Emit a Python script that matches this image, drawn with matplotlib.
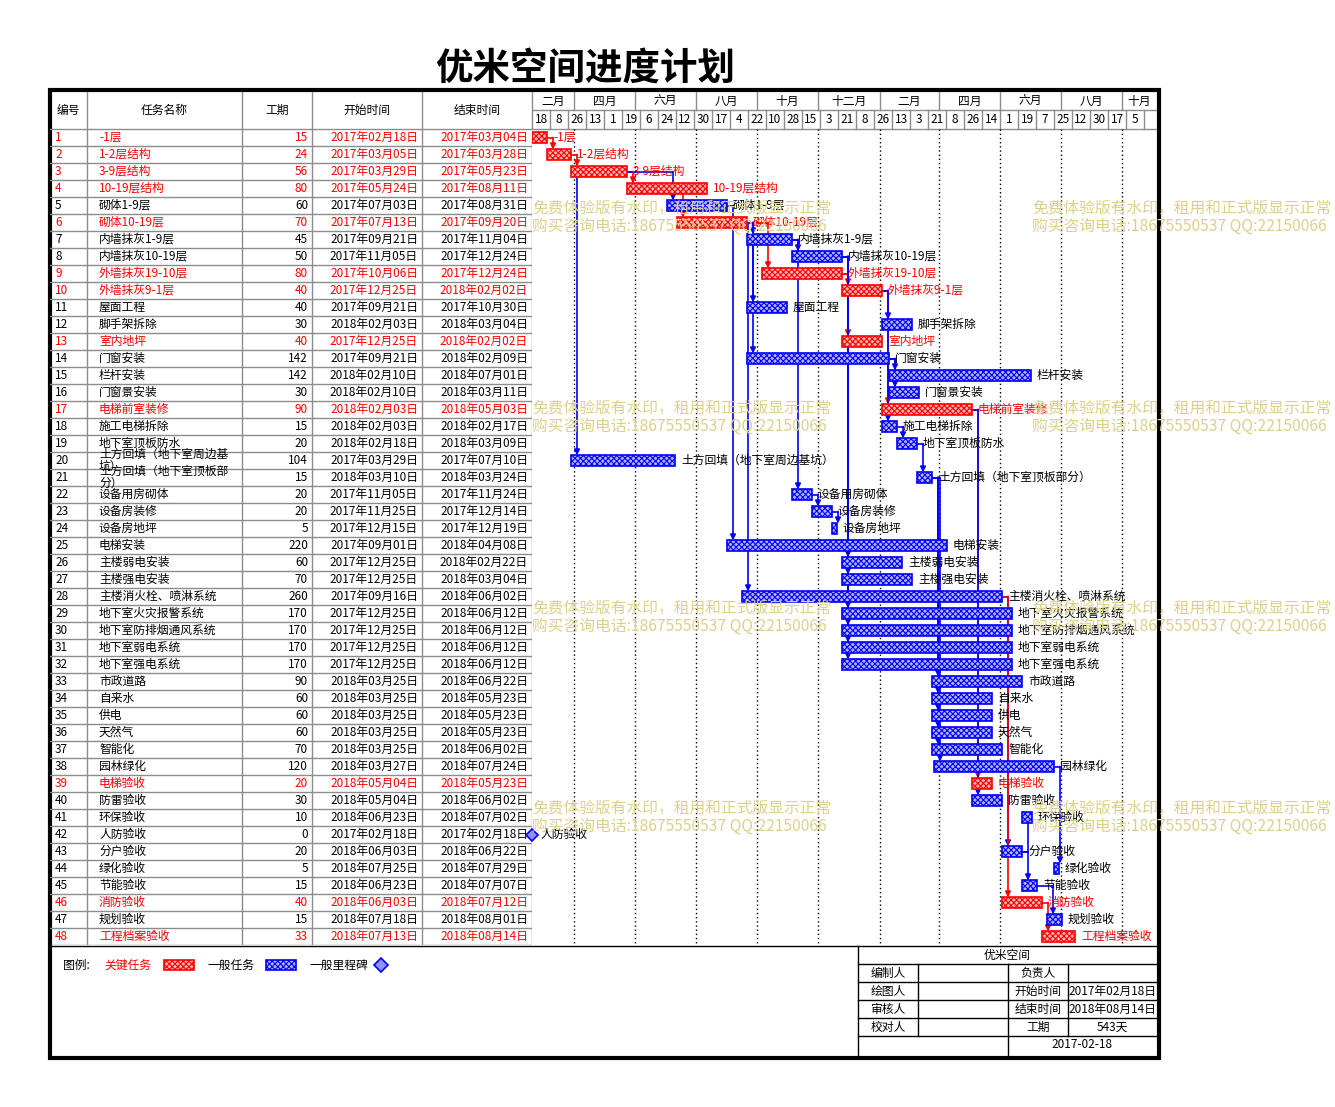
import numpy as np
import pandas as pd
import matplotlib
matplotlib.use('Agg')
import matplotlib.pyplot as plt
from matplotlib.patches import Rectangle

plt.rcParams['font.family'] = ['Noto Sans CJK SC', 'DejaVu Sans']
plt.rcParams['hatch.linewidth'] = 0.8

########## data
task_names = ['-1层', '1-2层结构', '3-9层结构', '10-19层结构', '砌体1-9层', '砌体10-19层',
              '内墙抹灰1-9层', '内墙抹灰10-19层', '外墙抹灰19-10层', '外墙抹灰9-1层', '屋面工程',
              '脚手架拆除', '室内地坪', '门窗安装', '栏杆安装', '门窗景安装', '电梯前室装修',
              '施工电梯拆除', '地下室顶板防水', '土方回填（地下室周边基坑）', '土方回填（地下室顶板部分）',
              '设备用房砌体', '设备房装修', '设备房地坪', '电梯安装', '主楼弱电安装', '主楼强电安装',
              '主楼消火栓、喷淋系统', '地下室火灾报警系统', '地下室防排烟通风系统', '地下室弱电系统',
              '地下室强电系统', '市政道路', '自来水', '供电', '天然气', '智能化', '园林绿化',
              '电梯验收', '防雷验收', '环保验收', '人防验收', '分户验收', '绿化验收', '节能验收',
              '消防验收', '规划验收', '工程档案验收']
durations = [15, 24, 56, 80, 60, 70, 45, 50, 80, 40, 40, 30, 40, 142, 142, 30, 90, 15, 20, 104,
             15, 20, 20, 5, 220, 60, 70, 260, 170, 170, 170, 170, 90, 60, 60, 60, 70, 120, 20, 30,
             10, 0, 20, 5, 15, 40, 15, 33]
start_dates = ['2017-02-18', '2017-03-05', '2017-03-29', '2017-05-24', '2017-07-03', '2017-07-13',
               '2017-09-21', '2017-11-05', '2017-10-06', '2017-12-25', '2017-09-21', '2018-02-03',
               '2017-12-25', '2017-09-21', '2018-02-10', '2018-02-10', '2018-02-03', '2018-02-03',
               '2018-02-18', '2017-03-29', '2018-03-10', '2017-11-05', '2017-11-25', '2017-12-15',
               '2017-09-01', '2017-12-25', '2017-12-25', '2017-09-16', '2017-12-25', '2017-12-25',
               '2017-12-25', '2017-12-25', '2018-03-25', '2018-03-25', '2018-03-25', '2018-03-25',
               '2018-03-25', '2018-03-27', '2018-05-04', '2018-05-04', '2018-06-23', '2017-02-18',
               '2018-06-03', '2018-07-25', '2018-06-23', '2018-06-03', '2018-07-18', '2018-07-13']
end_dates = ['2017-03-04', '2017-03-28', '2017-05-23', '2017-08-11', '2017-08-31', '2017-09-20',
             '2017-11-04', '2017-12-24', '2017-12-24', '2018-02-02', '2017-10-30', '2018-03-04',
             '2018-02-02', '2018-02-09', '2018-07-01', '2018-03-11', '2018-05-03', '2018-02-17',
             '2018-03-09', '2017-07-10', '2018-03-24', '2017-11-24', '2017-12-14', '2017-12-19',
             '2018-04-08', '2018-02-22', '2018-03-04', '2018-06-02', '2018-06-12', '2018-06-12',
             '2018-06-12', '2018-06-12', '2018-06-22', '2018-05-23', '2018-05-23', '2018-05-23',
             '2018-06-02', '2018-07-24', '2018-05-23', '2018-06-02', '2018-07-02', '2017-02-18',
             '2018-06-22', '2018-07-29', '2018-07-07', '2018-07-12', '2018-08-01', '2018-08-14']
critical = [1, 1, 1, 1, 0, 1, 0, 0, 1, 1, 0, 0, 1, 0, 0, 0, 1, 0, 0, 0, 0, 0, 0, 0, 0, 0, 0, 0,
            0, 0, 0, 0, 0, 0, 0, 0, 0, 0, 1, 0, 0, 0, 0, 0, 0, 1, 0, 1]
links = [(1, 2), (2, 3), (3, 4), (3, 5), (3, 20), (4, 6), (5, 25), (6, 7), (6, 11), (6, 14),
         (6, 28), (6, 9), (7, 8), (7, 22), (22, 23), (23, 24), (9, 10), (9, 13), (10, 12),
         (10, 17), (10, 18), (18, 19), (19, 21), (14, 15), (14, 16), (8, 26), (8, 27), (8, 29),
         (8, 30), (8, 31), (8, 32), (21, 33), (21, 34), (21, 35), (21, 36), (21, 37), (21, 38),
         (17, 39), (17, 40), (28, 43), (28, 46), (43, 41), (43, 45), (38, 44), (46, 48), (45, 47)]
headers = ['编号', '任务名称', '工期', '开始时间', '结束时间']
cn_months = ['一月', '二月', '三月', '四月', '五月', '六月', '七月', '八月', '九月', '十月', '十一月', '十二月']
project_name = '优米空间'
title = '优米空间进度计划'
make_date = '2017-02-18'
wm_line1 = '免费体验版有水印，租用和正式版显示正常'
wm_line2 = '购买咨询电话:18675550537 QQ:22150066'

RED = '#ff0000'
BLUE = '#0000ff'
GRAY = '#8c8c8c'
FS = 8.5

proj = pd.Timestamp(start_dates[0])
st = pd.to_datetime(pd.Series(start_dates))
en = pd.to_datetime(pd.Series(end_dates))
off = (st - proj).dt.days.values
wid = (en - st).dt.days.values + 1
n = len(task_names)
span = 625

########## layout helpers
W, H = 1335, 1107
fig = plt.figure(figsize=(W / 100, H / 100), dpi=100)


def ax_at(x0, y0, x1, y1, z=1):
    a = fig.add_axes([x0 / W, 1 - y1 / H, (x1 - x0) / W, (y1 - y0) / H], zorder=z)
    a.axis('off')
    return a


base = ax_at(0, 0, W, H, 0)
base.set_xlim(0, W)
base.set_ylim(H, 0)

HDR = 37 / 17
ytop = 0.5 - HDR
tab = ax_at(50, 92, 532, 945)
tab.set_xlim(50, 532)
tab.set_ylim(n + 0.5, ytop)
gan = ax_at(532, 92, 1157, 945, 2)
gan.set_xlim(0, span)
gan.set_ylim(n + 0.5, ytop)

########## table
cols = [50, 87, 242, 312, 422, 532]
for i in range(n + 1):
    tab.plot([50, 532], [i + 0.5, i + 0.5], color=GRAY, lw=1)
for x in cols[1:]:
    tab.plot([x, x], [ytop, n + 0.5], color=GRAY, lw=1)
for k, h in enumerate(headers):
    tab.text((cols[k] + cols[k + 1]) / 2, (ytop + 0.5) / 2, h, ha='center', va='center', fontsize=FS)

for i in range(n):
    y = i + 1
    c = RED if critical[i] else 'black'
    tab.text(55, y, str(i + 1), ha='left', va='center', fontsize=FS, color=c)
    nm = task_names[i]
    if len(nm) > 11:
        nm = nm[:11] + '\n' + nm[11:]
    tab.text(99, y, nm, ha='left', va='center', fontsize=FS, color=c, linespacing=0.95)
    tab.text(308, y, str(durations[i]), ha='right', va='center', fontsize=FS, color=c)
    tab.text(418, y, st[i].strftime('%Y年%m月%d日'), ha='right', va='center', fontsize=FS, color=c)
    tab.text(528, y, en[i].strftime('%Y年%m月%d日'), ha='right', va='center', fontsize=FS, color=c)

########## timeline header
ymid = ytop + 18 / 17
gan.plot([0, span], [ymid, ymid], color=GRAY, lw=1)
gan.plot([0, span], [0.5, 0.5], color=GRAY, lw=1)
mb = pd.date_range('2017-04-01', '2018-10-01', freq='2MS')
mb_off = [(d - proj).days for d in mb]
edges = [0] + mb_off + [span]
seg_month = [proj.month] + [d.month for d in mb]
for k in range(len(edges) - 1):
    gan.plot([edges[k], edges[k]], [ytop, ymid], color=GRAY, lw=1)
    gan.text((edges[k] + edges[k + 1]) / 2, (ytop + ymid) / 2, cn_months[seg_month[k] - 1],
             ha='center', va='center', fontsize=FS)
day_ticks = pd.date_range(proj, periods=35, freq='18D')
for d in day_ticks:
    x = (d - proj).days
    gan.plot([x, x], [ymid, 0.5], color=GRAY, lw=1)
    if x + 18 <= span:
        gan.text(x + 9, (ymid + 0.5) / 2, str(d.day), ha='center', va='center', fontsize=FS)
for x in mb_off:
    gan.plot([x, x], [0.5, n + 0.5], color='black', lw=1, ls=(0, (1, 2)))

########## dependency lines
for p, s in links:
    pi, si = p - 1, s - 1
    c = RED if critical[si] else BLUE
    xa = off[si] + 6
    pend = off[pi] + wid[pi]
    if xa >= pend:
        gan.plot([pend, xa], [p, p], color=c, lw=1.2)
        y0 = p
    else:
        y0 = p + 0.3
    gan.annotate('', xy=(xa, s - 0.3), xytext=(xa, y0),
                 arrowprops=dict(arrowstyle='-|>', color=c, lw=1.2, mutation_scale=8,
                                 shrinkA=0, shrinkB=0))

########## bars
for i in range(n):
    y = i + 1
    c = RED if critical[i] else BLUE
    fc = '#ffb4b4' if critical[i] else '#b4b4ff'
    tc = RED if critical[i] else 'black'
    if durations[i] == 0:
        gan.plot(off[i], y, marker='D', ms=6, mfc='#9090ff', mec=BLUE, mew=1.2, clip_on=False)
        gan.text(off[i] + 8, y, task_names[i], ha='left', va='center', fontsize=FS, color=tc)
        continue
    gan.add_patch(Rectangle((off[i], y - 0.3), wid[i], 0.6, facecolor=fc, edgecolor=c,
                            hatch='xxxxxx', lw=1.2, zorder=3))
    gan.text(off[i] + wid[i] + 6, y, task_names[i], ha='left', va='center', fontsize=FS,
             color=tc, zorder=4)

########## bottom: legend + title block
base.plot([50, 1157], [945.5, 945.5], color='black', lw=1)
base.text(63, 965, '图例:', ha='left', va='center', fontsize=FS)
base.text(104, 965, '关键任务', ha='left', va='center', fontsize=FS, color=RED)
base.add_patch(Rectangle((164, 960), 30, 10, facecolor='#ffb4b4', edgecolor=RED, hatch='xxxxxx', lw=1.2))
base.text(207, 965, '一般任务', ha='left', va='center', fontsize=FS)
base.add_patch(Rectangle((266, 960), 30, 10, facecolor='#b4b4ff', edgecolor=BLUE, hatch='xxxxxx', lw=1.2))
base.text(309, 965, '一般里程碑', ha='left', va='center', fontsize=FS)
base.plot(381, 965, marker='D', ms=7, mfc='#9090ff', mec=BLUE, mew=1.2)

for y in [964, 982, 1000, 1018, 1036]:
    base.plot([858, 1157], [y, y], color='black', lw=1)
base.plot([858, 858], [946, 1056], color='black', lw=1)
base.plot([918, 918], [964, 1036], color='black', lw=1)
base.plot([1008, 1008], [964, 1056], color='black', lw=1)
base.plot([1068, 1068], [964, 1036], color='black', lw=1)
base.text(1007, 955, project_name, ha='center', va='center', fontsize=FS)
for k, lab in enumerate(['编制人', '绘图人', '审核人', '校对人']):
    base.text(888, 973 + 18 * k, lab, ha='center', va='center', fontsize=FS)
for k, lab in enumerate(['负责人', '开始时间', '结束时间', '工期']):
    base.text(1038, 973 + 18 * k, lab, ha='center', va='center', fontsize=FS)
total_days = (en.max() - st.min()).days + 1
base.text(1112, 991, st.min().strftime('%Y年%m月%d日'), ha='center', va='center', fontsize=FS)
base.text(1112, 1009, en.max().strftime('%Y年%m月%d日'), ha='center', va='center', fontsize=FS)
base.text(1112, 1027, '%d天' % total_days, ha='center', va='center', fontsize=FS)
base.text(1082, 1045, make_date, ha='center', va='center', fontsize=FS)

base.add_patch(Rectangle((50, 90), 1109, 968, fill=False, edgecolor='black', lw=3))
base.text(585, 68, title, ha='center', va='center', fontsize=27, fontweight='bold')

########## watermark
for wy in [208, 408, 608, 808]:
    for wx in [532, 1032]:
        fig.text(wx / W, 1 - wy / H, wm_line1, ha='left', va='center', fontsize=11.3,
                 color='#ddd08a', zorder=10)
        fig.text(wx / W, 1 - (wy + 18) / H, wm_line2, ha='left', va='center', fontsize=11.3,
                 color='#ddd08a', zorder=10)

plt.savefig('out.png', dpi=100)
